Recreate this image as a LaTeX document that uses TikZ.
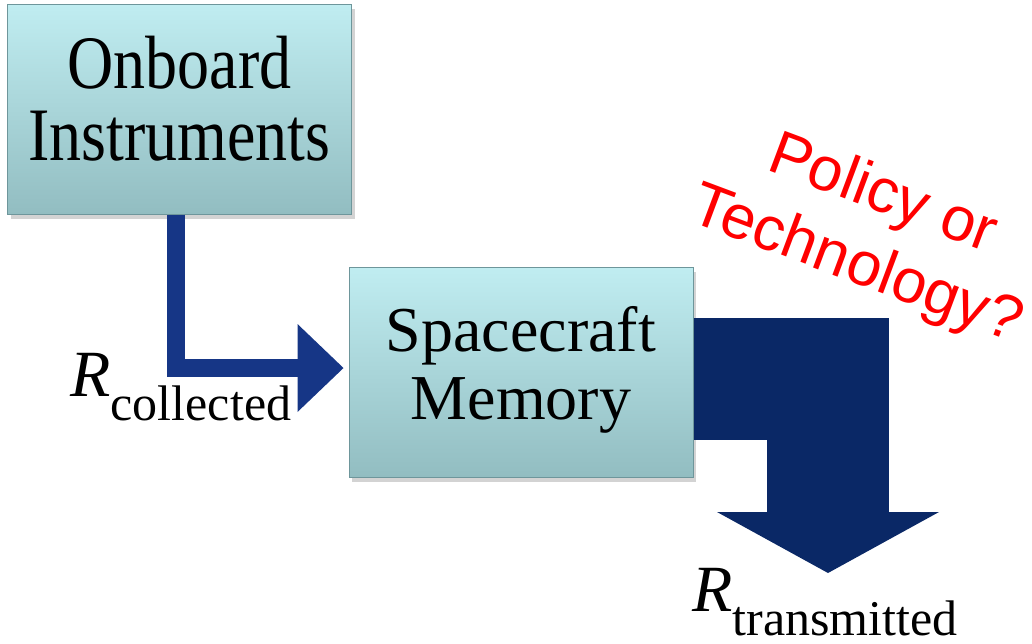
\documentclass[tikz,border=0pt]{standalone}
\usepackage{fontspec}
\setmainfont{Liberation Serif}
\newfontfamily\asksans{Liberation Sans}
\usetikzlibrary{calc,shadows}
\definecolor{boxtop}{RGB}{192,237,241}
\definecolor{boxbot}{RGB}{146,189,193}
\definecolor{boxedge}{RGB}{110,150,155}
\definecolor{flowblue}{RGB}{10,40,102}
\definecolor{flowbright}{RGB}{22,54,134}
\definecolor{askred}{RGB}{255,0,0}
\tikzset{
  block/.style={rectangle, minimum width=172pt, minimum height=105pt, inner sep=0pt,
    top color=boxtop, bottom color=boxbot, draw=boxedge, line width=0.5pt,
    drop shadow={shadow xshift=1.5pt, shadow yshift=-2.5pt, opacity=0.35}},
  flow/.style={draw=#1, line join=miter},
  flowhead/.style={fill=#1},
  rate/.style={inner sep=0pt, anchor=base west},
  ask/.style={text=askred, align=center, inner sep=0pt,
    font=\asksans\fontsize{31}{37.5}\selectfont}
}
\newcommand{\blocklines}[4]{\raisebox{#1}{\scalebox{1}[#2]{\fontsize{32}{#3}\selectfont
  \begin{tabular}{@{}c@{}}#4\end{tabular}}}}
\newcommand{\ratelbl}[1]{{\fontsize{33}{33}\selectfont\itshape R}{\fontsize{25}{25}\selectfont\raisebox{-12pt}{#1}}}

\begin{document}
\begin{tikzpicture}[x=0.5pt,y=-0.5pt]
\useasboundingbox (0,0) rectangle (1032,643);
\node[block] (instr) at (179.5,109) {\blocklines{4pt}{1.18}{30.5}{Onboard\\Instruments}};
\node[block] (mem) at (521,372) {\blocklines{7pt}{1}{34}{Spacecraft\\Memory}};

\coordinate (intip) at ($(mem.west)+(-5,-4)$);
\coordinate (outtip) at (828,573);
\draw[flow=flowbright, line width=9pt] ($(instr.south)+(-3.5,0)$) |- ($(intip)+(-46,0)$);
\fill[flowhead=flowbright] (intip) -- ++(-46,-44) -- ++(0,88) -- cycle;
\draw[flow=flowblue, line width=61pt] ($(mem.east)+(0,7)$) -| ($(outtip)+(0,-60)$);
\fill[flowhead=flowblue] (outtip) -- ++(-111,-61) -- ++(222,0) -- cycle;

\node[rate] (rcol) at (70,396) {\ratelbl{collected}};
\node[rate] (rtx) at (692,611) {\ratelbl{transmitted}};
\node[ask, rotate=-20.5] (ask) at (869,231) {Policy or\\Technology?};
\end{tikzpicture}
\end{document}
